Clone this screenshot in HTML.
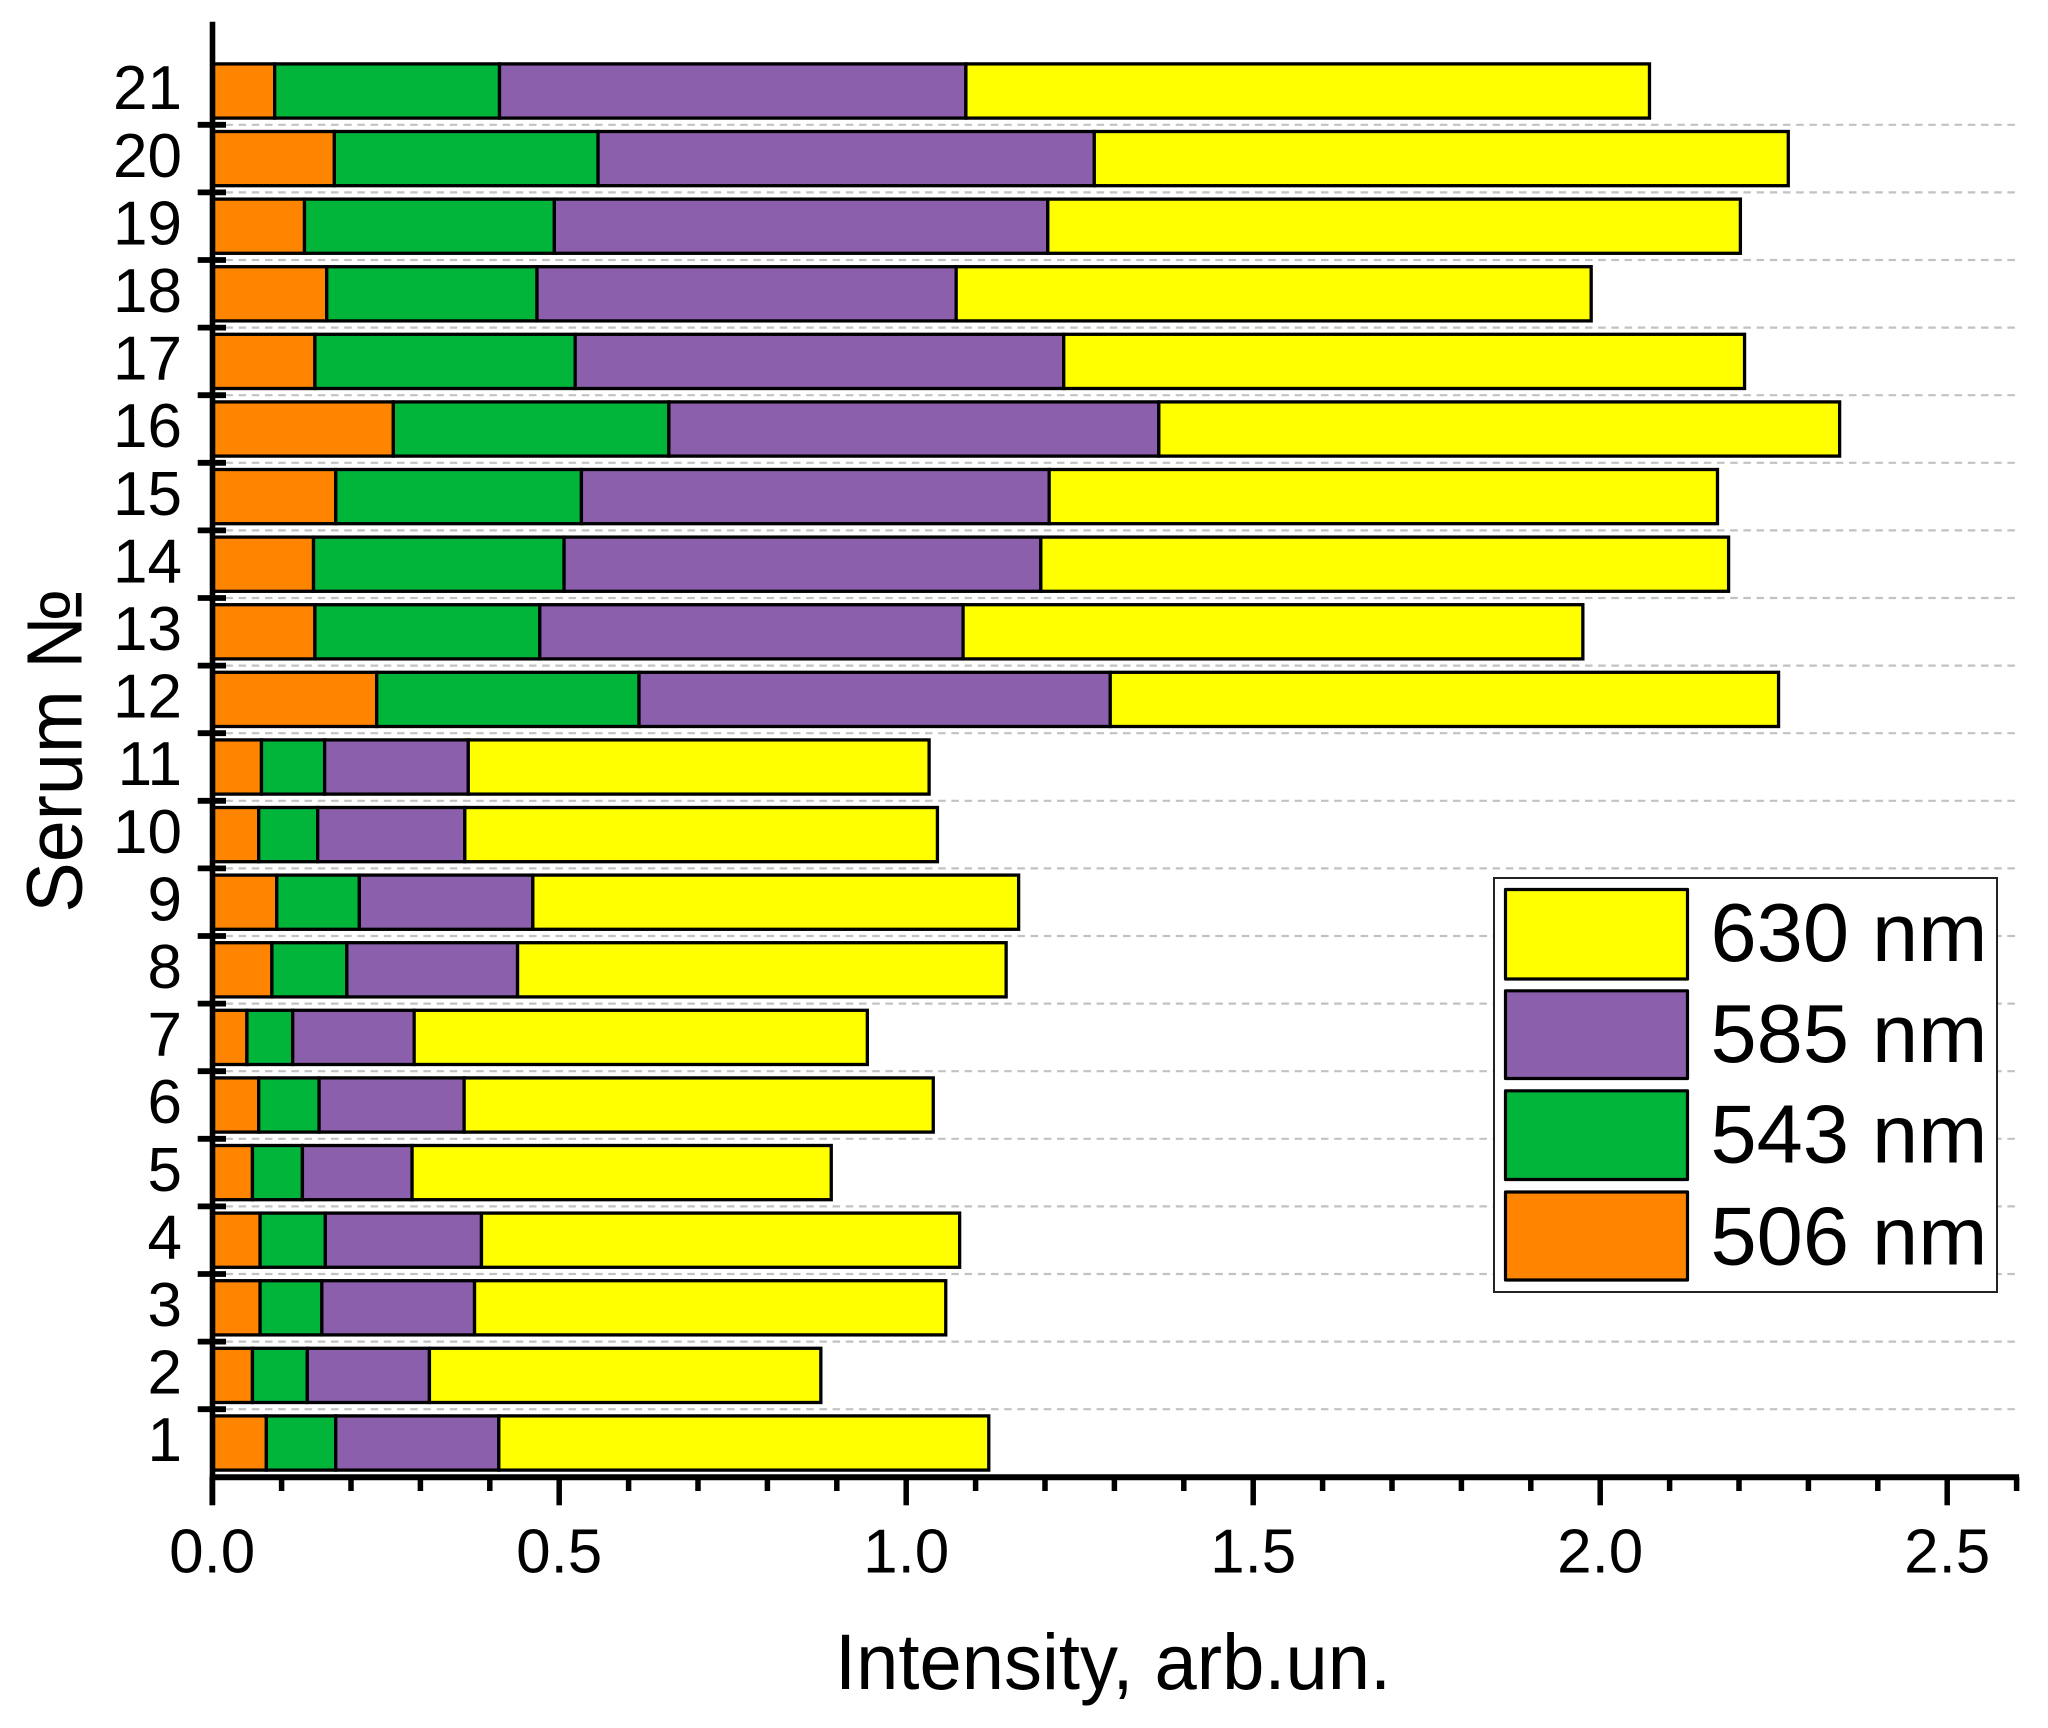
<!DOCTYPE html>
<html lang="en">
<head>
<meta charset="utf-8">
<title>Serum intensity stacked bar chart</title>
<style>
  html, body { margin: 0; padding: 0; background: #fff; }
  svg { display: block; font-family: "Liberation Sans", sans-serif; }
</style>
</head>
<body>
<svg id="chart" xmlns="http://www.w3.org/2000/svg" width="2048" height="1728" viewBox="0 0 2048 1728">
  <rect x="0" y="0" width="2048" height="1728" fill="#fff"/>
  <g id="grid"></g>
  <g id="bars"></g>
  <g id="axes"></g>
  <text transform="translate(835 1689) scale(1 1.04)" font-size="76" fill="#000">Intensity, arb.un.</text>
  <text transform="translate(81.5 750.5) rotate(-90) scale(1 1.04)" font-size="75.5" text-anchor="middle" fill="#000">Serum №</text>
  <g>
    <rect x="1494" y="878" width="503" height="414" fill="#fff" stroke="#222" stroke-width="2"/>
    <g>
      <rect x="1505.5" y="889.5" width="182" height="89.5" fill="#FFFF00" stroke="#000" stroke-width="3.2" stroke-linejoin="round"/>
      <text x="1710.5" y="961" font-size="83" fill="#000">630 nm</text>
    </g>
    <g>
      <rect x="1505.5" y="990.8" width="182" height="87.7" fill="#8C5FAD" stroke="#000" stroke-width="3.2" stroke-linejoin="round"/>
      <text x="1710.5" y="1062" font-size="83" fill="#000">585 nm</text>
    </g>
    <g>
      <rect x="1505.5" y="1090.8" width="182" height="88.7" fill="#00B53A" stroke="#000" stroke-width="3.2" stroke-linejoin="round"/>
      <text x="1710.5" y="1162.5" font-size="83" fill="#000">543 nm</text>
    </g>
    <g>
      <rect x="1505.5" y="1192" width="182" height="88" fill="#FF8500" stroke="#000" stroke-width="3.2" stroke-linejoin="round"/>
      <text x="1710.5" y="1264.5" font-size="83" fill="#000">506 nm</text>
    </g>
  </g>
</svg>
<script>
const serumLabels = ["1","2","3","4","5","6","7","8","9","10","11","12","13","14","15","16","17","18","19","20","21"];
const values506 = [0.078,0.058,0.069,0.069,0.058,0.067,0.050,0.086,0.093,0.067,0.071,0.237,0.148,0.146,0.178,0.261,0.148,0.165,0.133,0.176,0.090];
const values543 = [0.100,0.079,0.089,0.094,0.072,0.087,0.066,0.108,0.119,0.085,0.091,0.378,0.324,0.361,0.354,0.397,0.375,0.303,0.360,0.380,0.324];
const values585 = [0.235,0.176,0.220,0.225,0.158,0.209,0.175,0.246,0.250,0.212,0.207,0.679,0.610,0.687,0.674,0.706,0.704,0.604,0.711,0.715,0.672];
const values630 = [0.706,0.564,0.679,0.689,0.604,0.676,0.653,0.704,0.700,0.681,0.664,0.963,0.893,0.991,0.963,0.981,0.981,0.915,0.998,1.000,0.985];
const majorTicks = [0, 0.5, 1.0, 1.5, 2.0, 2.5];
const majorTickLabels = ["0.0","0.5","1.0","1.5","2.0","2.5"];
const minorTicks = [0.1,0.2,0.3,0.4,0.6,0.7,0.8,0.9,1.1,1.2,1.3,1.4,1.6,1.7,1.8,1.9,2.1,2.2,2.3,2.4,2.6];

const NS = "http://www.w3.org/2000/svg";
const X0 = 212.2, PX_PER_UNIT = 694, X_MAX = 2.6;
const AXIS_Y = 1477.3, BAND = 67.6, BAR_H = 54.2, FIRST_CENTER = 1443;
function xScale(v) { return X0 + v * PX_PER_UNIT; }
function yCenter(i) { return FIRST_CENTER - i * BAND; }
function make(parent, tag, attrs) {
  const el = document.createElementNS(NS, tag);
  for (const k in attrs) el.setAttribute(k, attrs[k]);
  parent.appendChild(el);
  return el;
}
const gridG = document.getElementById("grid");
const barsG = document.getElementById("bars");
const axesG = document.getElementById("axes");

serumLabels.forEach((label, i) => {
  if (i < serumLabels.length - 1) {
    const y = yCenter(i) - BAND / 2;
    const grid = make(gridG, "line", { x1: X0, x2: xScale(X_MAX), y1: y, y2: y, stroke: "#c2c2c2", "stroke-width": 2.2, "stroke-dasharray": "7.5 5.7" });
    
    
    const tick = make(axesG, "line", { x1: 197.7, x2: 226, y1: y, y2: y, stroke: "#000", "stroke-width": 5.8 });
    
    
  }
  const series = [
    [values506[i], "#FF8500", "bar-506"],
    [values543[i], "#00B53A", "bar-543"],
    [values585[i], "#8C5FAD", "bar-585"],
    [values630[i], "#FFFF00", "bar-630"]
  ];
  let cum = 0;
  series.forEach(s => {
    const rect = make(barsG, "rect", {
      x: xScale(cum), y: yCenter(i) - BAR_H / 2,
      width: s[0] * PX_PER_UNIT, height: BAR_H,
      fill: s[1], stroke: "#000", "stroke-width": 3.3
    });
    
    
    cum += s[0];
  });
  const t = make(axesG, "text", { x: 182, y: yCenter(i) + 18.2, "font-size": 62, "text-anchor": "end", fill: "#000" });
  t.textContent = label;
  
  
});

const yAxis = make(axesG, "line", { x1: 212.5, x2: 212.5, y1: 21.7, y2: 1505, stroke: "#000", "stroke-width": 5.6 });


const xAxis = make(axesG, "line", { x1: X0 - 2.5, x2: xScale(X_MAX) + 2.5, y1: AXIS_Y, y2: AXIS_Y, stroke: "#000", "stroke-width": 6 });



majorTicks.forEach((v, i) => {
  const tick = make(axesG, "line", { x1: xScale(v), x2: xScale(v), y1: AXIS_Y, y2: 1505.3, stroke: "#000", "stroke-width": 5.5 });
  
  
  const t = make(axesG, "text", { x: xScale(v), y: 1572.5, "font-size": 62, "text-anchor": "middle", fill: "#000" });
  t.textContent = majorTickLabels[i];
  
  
});
minorTicks.forEach(v => {
  const tick = make(axesG, "line", { x1: xScale(v), x2: xScale(v), y1: AXIS_Y, y2: 1491, stroke: "#000", "stroke-width": 5.5 });
  
  
});
</script>
</body>
</html>
